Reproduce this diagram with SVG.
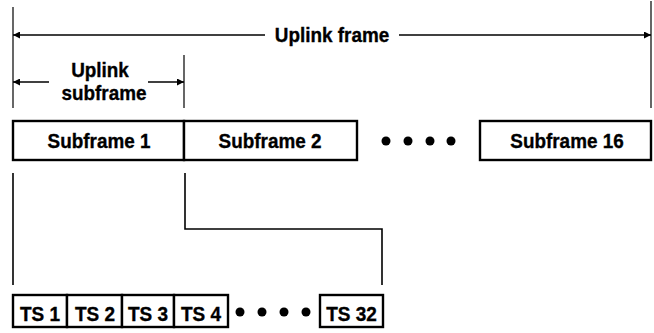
<svg xmlns="http://www.w3.org/2000/svg" width="654" height="333" viewBox="0 0 654 333">
  <style>
    .box { fill: #fff; stroke: #000; stroke-width: 2.4; }
    .lbl { font-family: "Liberation Sans", Arial, sans-serif; font-weight: bold; font-size: 21px; fill: #000; stroke: #000; stroke-width: 0.35; text-anchor: middle; }
    .ts { font-size: 20px; }
    .ln { fill: none; stroke: #000; stroke-width: 1.6; }
    .tick { fill: none; stroke: #000; stroke-width: 1.2; }
    .dot { fill: #000; }
  </style>
  <defs>
    <marker id="ah" viewBox="0 0 10 10" refX="10" refY="5" markerWidth="10" markerHeight="7" markerUnits="userSpaceOnUse" orient="auto-start-reverse">
      <path d="M0,0 L10,5 L0,10 Z" fill="#000"/>
    </marker>
  </defs>

  <!-- dimension ticks and arrows -->
  <g id="connectors">
    <line class="tick" x1="13" y1="7" x2="13" y2="108"/>
    <line class="tick" x1="651" y1="1" x2="651" y2="108"/>
    <line class="tick" x1="184" y1="55" x2="184" y2="108"/>
    <line class="ln" x1="13" y1="35" x2="265" y2="35" marker-start="url(#ah)"/>
    <line class="ln" x1="399" y1="35" x2="651" y2="35" marker-end="url(#ah)"/>
    <line class="ln" x1="13" y1="82" x2="49" y2="82" marker-start="url(#ah)"/>
    <line class="ln" x1="148" y1="82" x2="184" y2="82" marker-end="url(#ah)"/>
    <!-- expansion of Subframe 1 into time slots -->
    <line class="ln" x1="13" y1="173" x2="13" y2="285"/>
    <polyline class="ln" points="185,173 185,229 382,229 382,285"/>
  </g>

  <g id="uplink-frame-label">
    <text class="lbl" transform="translate(332,42) scale(0.9,1)">Uplink frame</text>
  </g>
  <g id="uplink-subframe-label">
    <text class="lbl" transform="translate(100,77) scale(0.9,1)">Uplink</text>
    <text class="lbl" transform="translate(104,100) scale(0.9,1)">subframe</text>
  </g>

  <g id="subframe-1">
    <rect class="box" x="13" y="121" width="171" height="39"/>
    <text class="lbl" transform="translate(99,148) scale(0.9,1)">Subframe 1</text>
  </g>
  <g id="subframe-2">
    <rect class="box" x="184" y="121" width="173" height="39"/>
    <text class="lbl" transform="translate(270,148) scale(0.9,1)">Subframe 2</text>
  </g>
  <g id="subframe-dots">
    <circle class="dot" cx="386" cy="141" r="4.5"/>
    <circle class="dot" cx="408" cy="141" r="4.5"/>
    <circle class="dot" cx="430" cy="141" r="4.5"/>
    <circle class="dot" cx="451" cy="141" r="4.5"/>
  </g>
  <g id="subframe-16">
    <rect class="box" x="480" y="121" width="171" height="39"/>
    <text class="lbl" transform="translate(567,148) scale(0.9,1)">Subframe 16</text>
  </g>

  <g id="ts-1">
    <rect class="box" x="13" y="295" width="54" height="32"/>
    <text class="lbl ts" transform="translate(40,321) scale(0.95,1)">TS 1</text>
  </g>
  <g id="ts-2">
    <rect class="box" x="67" y="295" width="55" height="32"/>
    <text class="lbl ts" transform="translate(95,321) scale(0.95,1)">TS 2</text>
  </g>
  <g id="ts-3">
    <rect class="box" x="122" y="295" width="52" height="32"/>
    <text class="lbl ts" transform="translate(148,321) scale(0.95,1)">TS 3</text>
  </g>
  <g id="ts-4">
    <rect class="box" x="174" y="295" width="54" height="32"/>
    <text class="lbl ts" transform="translate(201,321) scale(0.95,1)">TS 4</text>
  </g>
  <g id="ts-dots">
    <circle class="dot" cx="240" cy="312" r="4.5"/>
    <circle class="dot" cx="262" cy="312" r="4.5"/>
    <circle class="dot" cx="284" cy="312" r="4.5"/>
    <circle class="dot" cx="306" cy="312" r="4.5"/>
  </g>
  <g id="ts-32">
    <rect class="box" x="320" y="295" width="63" height="32"/>
    <text class="lbl ts" transform="translate(351.5,321) scale(0.95,1)">TS 32</text>
  </g>
</svg>
